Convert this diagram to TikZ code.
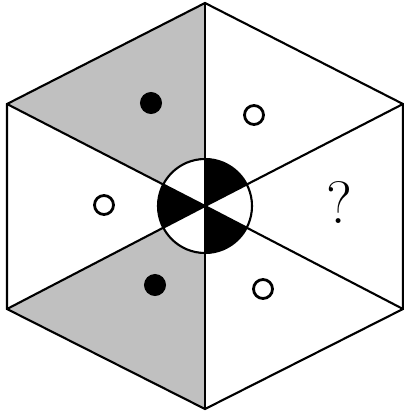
\documentclass[tikz,border=0pt]{standalone}
\usepackage{xcolor}
\usetikzlibrary{positioning}
\definecolor{shadegray}{RGB}{192,192,192}

\begin{document}
\begin{tikzpicture}[x=0.01cm, y=-0.01cm, line width=0.6pt,
    blackdot/.style={circle, fill=black, minimum size=0.22cm, inner sep=0pt},
    whitedot/.style={circle, draw=black, fill=white, line width=0.8pt, minimum size=0.19cm, inner sep=0pt}]
        \useasboundingbox (0,0) rectangle (404,418);

        % corners of the hexagon
        \coordinate (c) at (205,206);
        \coordinate (top) at (205,3);
        \coordinate (ur) at (403,104);
        \coordinate (lr) at (403,309);
        \coordinate (bot) at (205,409);
        \coordinate (ll) at (7,309);
        \coordinate (ul) at (7,104);

        % shaded sectors
        \fill[shadegray] (c) -- (ul) -- (top) -- cycle;
        \fill[shadegray] (c) -- (ll) -- (bot) -- cycle;

        % centre disc
        \fill[white] (c) circle[radius=47];
        \begin{scope}
          \clip (c) circle[radius=47];
          \fill[black] (c) -- (top) -- (ur) -- cycle;
          \fill[black] (c) -- (lr) -- (bot) -- cycle;
          \fill[black] (c) -- (ul) -- (ll) -- cycle;
        \end{scope}
        \draw (c) circle[radius=47];

        % spokes and outline
        \foreach \v in {top,ur,lr,bot,ll,ul}
          \draw (c) -- (\v);
        \draw (top) -- (ur) -- (lr) -- (bot) -- (ll) -- (ul) -- cycle;

        % dots
        \node[blackdot] (dtl) at (151,103) {};
        \node[whitedot] (dtr) at (254,115) {};
        \node[whitedot] (dl) at (104,205) {};
        \node[blackdot] (dbl) at (155,285) {};
        \node[whitedot] (dbr) at (263,289) {};

        \node[font=\fontsize{17}{19}\selectfont, inner sep=0pt] (q) at (339,203) {?};
      \end{tikzpicture}
\end{document}
